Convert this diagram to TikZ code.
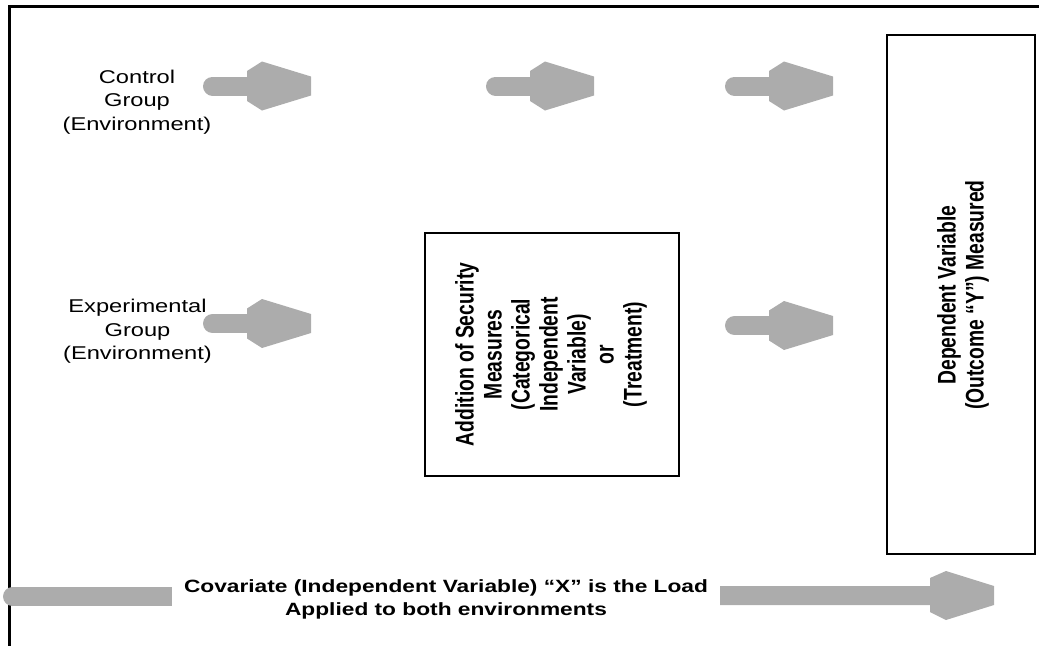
\documentclass[tikz,border=0pt]{standalone}
\usepackage{fontspec}
\usepackage{graphicx}
\setmainfont{Liberation Sans}
\newfontfamily\widesans[FakeStretch=1.28]{Liberation Sans}

\definecolor{arrowgray}{RGB}{172,172,172}

% upright column of lines, turned to read bottom to top
\newcommand{\uptext}[1]{\rotatebox{90}{\scalebox{1}[1.32]{\begin{tabular}{@{}c@{}}#1\end{tabular}}}}

\tikzset{
  grouptext/.style={align=center, inner sep=0pt, font=\widesans\fontsize{18.5}{23.5}\selectfont},
  loadtext/.style={align=center, inner sep=0pt, font=\widesans\bfseries\fontsize{17.75}{23}\selectfont},
  varbox/.style={draw, line width=2pt, inner sep=0pt},
  vartext/.style={inner sep=0pt, font=\bfseries\fontsize{19.3}{21.2}\selectfont},
  pics/blockarrow/.style={code={
    \draw[arrowgray, line width=19pt, line cap=round] (9.5,0) -- (45,0);
    \fill[arrowgray] (44,15) -- (59,24.5) -- (108,9.5) -- (108,-9.5) -- (59,-24.5) -- (44,-15) -- cycle;
  }}
}

\begin{document}
\begin{tikzpicture}[x=1pt, y=-1pt]
    \useasboundingbox (0,0) rectangle (1039,646);

    % frame (top and left side only)
    \draw[line width=2.5pt] (1039,6.5) -- (9.7,6.5) -- (9.7,646);

    % groups
    \node[grouptext] (control) at (137,102) {Control\\Group\\(Environment)};
    \node[grouptext] (experimental) at (137.5,331.5) {Experimental\\Group\\(Environment)};

    % treatment and outcome boxes
    \node[varbox, minimum width=254pt, minimum height=243pt] (treatment) at (552,354.5) {};
    \node[vartext] (treatmenttext) at (treatment.center)
      {\uptext{Addition of Security\\Measures\\(Categorical\\Independent\\Variable)\\or\\(Treatment)}};
    \node[varbox, minimum width=148pt, minimum height=519pt] (outcome) at (961,294.5) {};
    \node[vartext] (outcometext) at (964,295)
      {\uptext{Dependent Variable\\(Outcome “Y”) Measured}};

    % gray arrows
    \coordinate (c1) at (203,86);
    \coordinate (c2) at (486,86);
    \coordinate (c3) at (725,86);
    \coordinate (e1) at (203,323.5);
    \coordinate (e3) at (725,325.5);
    \foreach \p in {c1,c2,c3,e1,e3}
      \pic at (\p) {blockarrow};

    % covariate
    \node[loadtext] (load) at (446,599) {Covariate (Independent Variable) “X” is the Load\\Applied to both environments};
    \fill[arrowgray] (12.5,587) rectangle (172,606);
    \fill[arrowgray] (12.5,596.5) circle (9.5);
    \fill[arrowgray] (720,586) -- (930,586) -- (930,578) -- (946,571) -- (994,586) -- (994,605)
      -- (946,620) -- (930,612) -- (930,605) -- (720,605) -- cycle;

\end{tikzpicture}
\end{document}
